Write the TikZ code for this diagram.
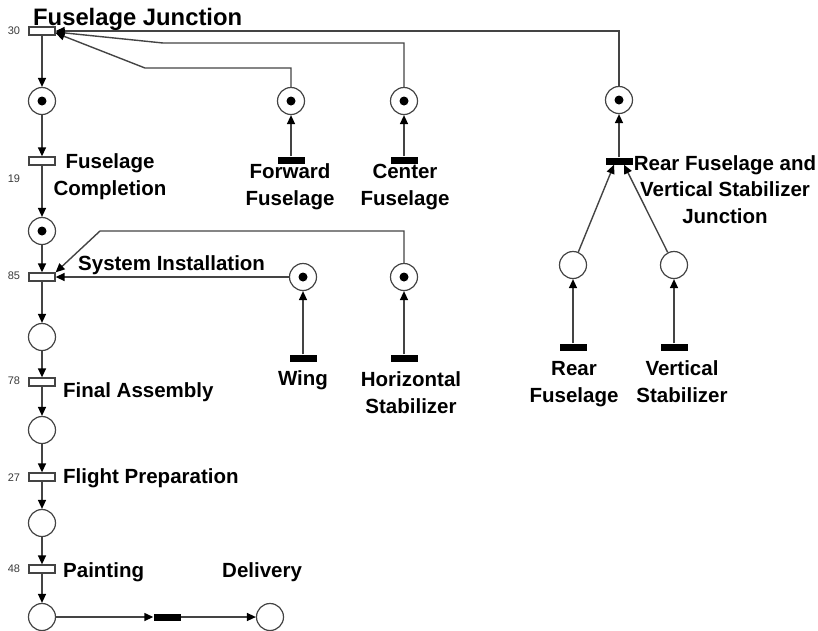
\documentclass[tikz,border=0pt]{standalone}
\usepackage{fontspec}
\setmainfont{Liberation Sans}
\usetikzlibrary{arrows.meta}
\definecolor{linegray}{HTML}{444444}
\definecolor{numgray}{HTML}{3A3A3A}
\tikzset{
  place/.style={circle, draw=linegray, line width=1.2pt, minimum size=27pt, inner sep=0pt, fill=white},
  tok/.style={place, path picture={\fill[black] (path picture bounding box.center) circle (4.5pt);}},
  trans/.style={rectangle, draw=linegray, fill=white, line width=1.3pt, minimum width=26pt, minimum height=8pt, inner sep=0pt},
  bar/.style={rectangle, fill=black, minimum width=27pt, minimum height=7pt, inner sep=0pt},
  arc/.style={draw=linegray, line width=1.4pt, -{Triangle[length=9pt,width=8pt,color=black]}},
  lbl/.style={font=\bfseries\fontsize{20.5}{26.5}\selectfont, align=center, inner sep=0pt},
  num/.style={font=\fontsize{11}{13}\selectfont, text=numgray, inner sep=0pt}
}
\begin{document}
\begin{tikzpicture}[x=1pt,y=-1pt]
\useasboundingbox (0,0) rectangle (818,630);
% main column
\node[trans] (t30) at (42,31) {};
\node[tok]   (p1)  at (42,101) {};
\node[trans] (t19) at (42,161) {};
\node[tok]   (p2)  at (42,231) {};
\node[trans] (t85) at (42,277) {};
\node[place] (p3)  at (42,337) {};
\node[trans] (t78) at (42,382) {};
\node[place] (p4)  at (42,430) {};
\node[trans] (t27) at (42,477) {};
\node[place] (p5)  at (42,523) {};
\node[trans] (t48) at (42,569) {};
\node[place] (p6)  at (42,617) {};
\node[bar]   (tdel) at (167,617) {};
\node[place] (pdel) at (270,617) {};
% fuselage parts
\node[tok] (pff) at (291,101) {};
\node[bar] (tff) at (291,160) {};
\node[tok] (pcf) at (404,101) {};
\node[bar] (tcf) at (404,160) {};
% wing / stabilizer
\node[tok] (pw)  at (303,277) {};
\node[bar] (tw)  at (303,358) {};
\node[tok] (phs) at (404,277) {};
\node[bar] (ths) at (404,358) {};
% rear fuselage
\node[tok]   (prv) at (619,100) {};
\node[bar]   (trv) at (619,161) {};
\node[place] (prf) at (573,265) {};
\node[bar]   (trf) at (573,347) {};
\node[place] (pvs) at (674,265) {};
\node[bar]   (tvs) at (674,347) {};
% bend coordinates
\coordinate (c1) at (163,43);
\coordinate (c2) at (145,68);
\coordinate (c3) at (100,231);
% main chain arcs
\draw[arc] (t30) -- (p1);
\draw[arc] (p1) -- (t19);
\draw[arc] (t19) -- (p2);
\draw[arc] (p2) -- (t85);
\draw[arc] (t85) -- (p3);
\draw[arc] (p3) -- (t78);
\draw[arc] (t78) -- (p4);
\draw[arc] (p4) -- (t27);
\draw[arc] (t27) -- (p5);
\draw[arc] (p5) -- (t48);
\draw[arc] (t48) -- (p6);
\draw[arc] (p6) -- (tdel);
\draw[arc] (tdel) -- (pdel);
% inputs
\draw[arc] (tff) -- (pff);
\draw[arc] (tcf) -- (pcf);
\draw[arc] (tw) -- (pw);
\draw[arc] (ths) -- (phs);
\draw[arc] (trf) -- (prf);
\draw[arc] (tvs) -- (pvs);
\draw[arc] (prf) -- ([xshift=-5pt]trv.south);
\draw[arc] (pvs) -- ([xshift=5pt]trv.south);
\draw[arc] (trv) -- (prv);
% joins to fuselage junction
\draw[arc] (prv.north) |- (t30.east);
\draw[arc] (pcf.north) |- (c1) -- ([yshift=-1pt]t30.east);
\draw[arc] (pff.north) |- (c2) -- ([yshift=-2pt]t30.east);
% joins to system installation
\draw[arc] (pw) -- (t85);
\draw[arc] (phs.north) |- (c3) -- (t85.north east);
% redraw nodes on top
\node[trans] at (t30) {};
\node[trans] at (t85) {};
% numbers
\node[num] at (14,31) {30};
\node[num] at (14,179) {19};
\node[num] at (14,276) {85};
\node[num] at (14,381) {78};
\node[num] at (14,478) {27};
\node[num] at (14,569) {48};
% labels
\node[lbl, font=\bfseries\fontsize{23.8}{28}\selectfont, anchor=base west] (lfj) at (33,25) {Fuselage Junction};
\node[lbl, anchor=base] (lfc) at (110,195) {Fuselage\\Completion};
\node[lbl, anchor=base west] (lsi) at (78,270) {System Installation};
\node[lbl, anchor=base west] (lfa) at (63,397) {Final Assembly};
\node[lbl, anchor=base west] (lfp) at (63,483) {Flight Preparation};
\node[lbl, anchor=base west] (lpa) at (63,577) {Painting};
\node[lbl, anchor=base west] (lde) at (222,577) {Delivery};
\node[lbl, anchor=base] (lff) at (290,205) {Forward\\Fuselage};
\node[lbl, anchor=base] (lcf) at (405,205) {Center\\Fuselage};
\node[lbl, anchor=base] (lwi) at (303,385) {Wing};
\node[lbl, anchor=base] (lhs) at (411,413) {Horizontal\\Stabilizer};
\node[lbl, anchor=base] (lrv) at (725,223) {Rear Fuselage and\\Vertical Stabilizer\\Junction};
\node[lbl, anchor=base] (lrf) at (574,402) {Rear\\Fuselage};
\node[lbl, anchor=base] (lvs) at (682,402) {Vertical\\Stabilizer};
\end{tikzpicture}
\end{document}
